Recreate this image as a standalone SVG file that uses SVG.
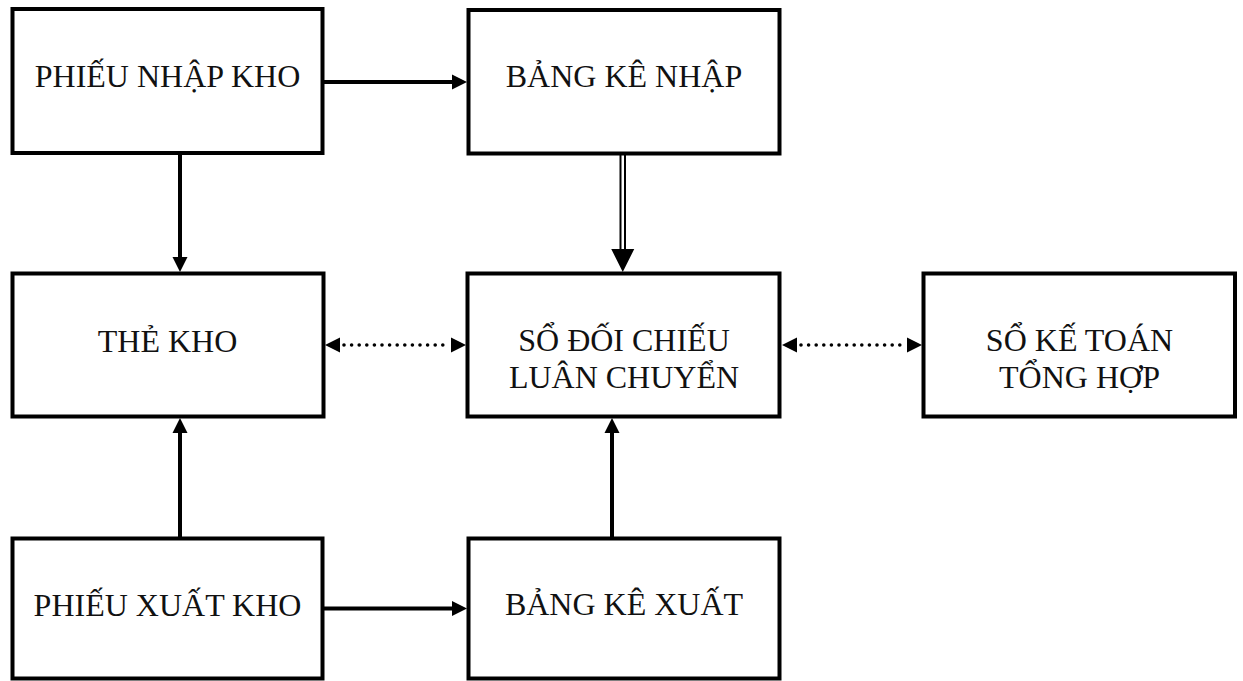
<svg xmlns="http://www.w3.org/2000/svg" xmlns:xlink="http://www.w3.org/1999/xlink" width="1243" height="681" viewBox="0 0 1243 681">
  <style>
    .box { fill: #ffffff; stroke: #000000; stroke-width: 4; }
    .label { font-family: "Liberation Serif", "Times New Roman", serif; font-size: 32px; fill: #111111; text-anchor: middle; }
    .flow { stroke: #000000; stroke-width: 4; fill: none; }
    .thin { stroke: #000000; stroke-width: 2; fill: none; }
    .dots { stroke: #000000; stroke-width: 3.6; fill: none; stroke-linecap: round; stroke-dasharray: 0 7.6; }
    .head { fill: #000000; }
  </style>
  <defs>
    <!-- arrowhead, tip at origin, pointing along +x -->
    <path id="head" d="M0,0 L-15,-7.5 L-15,7.5 Z"/>
    <path id="bighead" d="M0,0 L-23,-11.5 L-23,11.5 Z"/>
  </defs>

  <rect width="1243" height="681" fill="#ffffff"/>

  <g id="phieu-nhap-kho">
    <rect class="box" x="12.5" y="9" width="310" height="144"/>
    <text class="label" x="167.5" y="87">PHIẾU NHẬP KHO</text>
  </g>

  <g id="bang-ke-nhap">
    <rect class="box" x="468.5" y="10" width="311" height="143.5"/>
    <text class="label" x="624" y="87">BẢNG KÊ NHẬP</text>
  </g>

  <g id="the-kho">
    <rect class="box" x="12.5" y="273.5" width="311" height="143"/>
    <text class="label" x="167.5" y="351.5">THẺ KHO</text>
  </g>

  <g id="so-doi-chieu">
    <rect class="box" x="467.5" y="273.5" width="312" height="143"/>
    <text class="label" x="624" y="351">SỔ ĐỐI CHIẾU</text>
    <text class="label" x="624" y="388">LUÂN CHUYỂN</text>
  </g>

  <g id="so-ke-toan">
    <rect class="box" x="923.5" y="273.5" width="311.5" height="143"/>
    <text class="label" x="1079.5" y="351">SỔ KẾ TOÁN</text>
    <text class="label" x="1079.5" y="388">TỔNG HỢP</text>
  </g>

  <g id="phieu-xuat-kho">
    <rect class="box" x="12.5" y="538.5" width="310" height="140"/>
    <text class="label" x="167.5" y="615.5">PHIẾU XUẤT KHO</text>
  </g>

  <g id="bang-ke-xuat">
    <rect class="box" x="468.5" y="538.5" width="311" height="140"/>
    <text class="label" x="624" y="615">BẢNG KÊ XUẤT</text>
  </g>

  <g id="connectors">
    <!-- phiếu nhập kho -> bảng kê nhập -->
    <line class="flow" x1="324" y1="82" x2="453" y2="82"/>
    <use class="head" xlink:href="#head" transform="translate(467,82)"/>

    <!-- phiếu nhập kho -> thẻ kho -->
    <line class="flow" x1="180" y1="154" x2="180" y2="258"/>
    <use class="head" xlink:href="#head" transform="translate(180,272) rotate(90)"/>

    <!-- bảng kê nhập => sổ đối chiếu luân chuyển (double line) -->
    <line class="thin" x1="620.5" y1="155" x2="620.5" y2="251"/>
    <line class="thin" x1="625" y1="155" x2="625" y2="251"/>
    <use class="head" xlink:href="#bighead" transform="translate(622.75,272) rotate(90)"/>

    <!-- phiếu xuất kho -> thẻ kho -->
    <line class="flow" x1="180" y1="537" x2="180" y2="432"/>
    <use class="head" xlink:href="#head" transform="translate(180,418) rotate(-90)"/>

    <!-- phiếu xuất kho -> bảng kê xuất -->
    <line class="flow" x1="324" y1="608.5" x2="453" y2="608.5"/>
    <use class="head" xlink:href="#head" transform="translate(467,608.5)"/>

    <!-- bảng kê xuất -> sổ đối chiếu luân chuyển -->
    <line class="flow" x1="612" y1="537" x2="612" y2="432"/>
    <use class="head" xlink:href="#head" transform="translate(612,418) rotate(-90)"/>

    <!-- thẻ kho <-> sổ đối chiếu luân chuyển (dotted) -->
    <line class="dots" x1="344" y1="345" x2="444" y2="345"/>
    <use class="head" xlink:href="#head" transform="translate(325,345) rotate(180)"/>
    <use class="head" xlink:href="#head" transform="translate(466,345)"/>

    <!-- sổ đối chiếu luân chuyển <-> sổ kế toán tổng hợp (dotted) -->
    <line class="dots" x1="801" y1="345" x2="901" y2="345"/>
    <use class="head" xlink:href="#head" transform="translate(782,345) rotate(180)"/>
    <use class="head" xlink:href="#head" transform="translate(922,345)"/>
  </g>
</svg>
